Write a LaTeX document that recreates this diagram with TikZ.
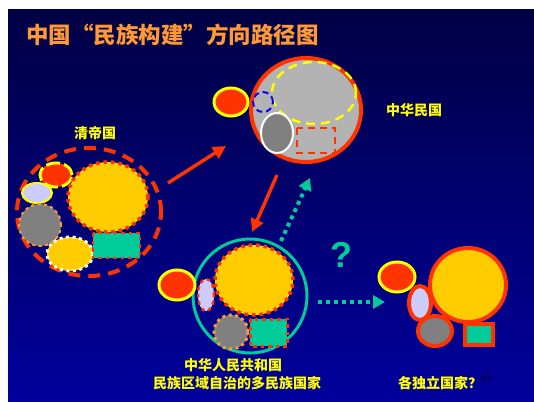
\documentclass[tikz,border=0pt]{standalone}
\usepackage{fontspec}
\newfontfamily\cjk{Noto Sans CJK SC}
\newfontfamily\lsans{Liberation Sans}
\usetikzlibrary{arrows.meta}
\definecolor{bgtop}{HTML}{000044}
\definecolor{bgbot}{HTML}{00009C}
\definecolor{rred}{HTML}{FF3300}
\definecolor{gold}{HTML}{FFCC00}
\definecolor{yel}{HTML}{FFFF00}
\definecolor{lav}{HTML}{CCCCFF}
\definecolor{gry}{HTML}{808080}
\definecolor{lgry}{HTML}{B3B3B3}
\definecolor{teal}{HTML}{00CC99}
\definecolor{orng}{HTML}{FF9933}
\definecolor{titleor}{HTML}{FF9933}
\tikzset{
  redarrow/.style={draw=rred, line width=3.5pt, -{Triangle[length=13pt,width=13pt]}},
  tealarrow/.style={draw=teal, line width=4pt, dash pattern=on 4pt off 4pt, -{Triangle[length=12pt,width=13pt]}},
  reddots/.style={draw=rred, line width=3.5pt, dash pattern=on 3.5pt off 4pt},
  orngdots/.style={draw=orng, line width=3pt, dash pattern=on 3pt off 3.5pt},
  whitedots/.style={draw=white, line width=3pt, dash pattern=on 3pt off 3.5pt},
  yelring/.style={fill=rred, draw=yel, line width=3pt},
  label/.style={text=yel, font=\cjk\bfseries\fontsize{14}{16}\selectfont, inner sep=0pt},
}
\begin{document}
\begin{tikzpicture}[x=1pt,y=-1pt]
\useasboundingbox (0,0) rectangle (534,401);
\fill[white] (0,0) rectangle (534,401);
\shade[top color=bgtop, bottom color=bgbot] (8,10) rectangle (534,401);

% title
\node[text=titleor, font=\cjk\bfseries\fontsize{22.5}{25}\selectfont, anchor=west, inner sep=0pt] (title) at (26,35) {中国“民族构建”方向路径图};

% ---- Qing empire ----
\node[label] (qing) at (95,133) {清帝国};
\draw[draw=rred, line width=4pt, dash pattern=on 12pt off 8pt] (89,212) ellipse [x radius=72pt, y radius=64pt];
\draw[fill=rred, draw=yel, line width=3pt, dash pattern=on 14pt off 4pt] (56,175) ellipse [x radius=16pt, y radius=12pt];
\draw[fill=lav, draw=yel, line width=2pt] (37,193) ellipse [x radius=15pt, y radius=10pt];
\fill[gry] (40,225) circle [radius=21pt];
\draw[orngdots, line width=2pt] (40,225) circle [radius=21pt];
\fill[gold] (108,197) ellipse [x radius=40pt, y radius=35pt];
\draw[reddots] (108,197) ellipse [x radius=40pt, y radius=35pt];
\fill[gold] (70,254) ellipse [x radius=23pt, y radius=17pt];
\draw[whitedots] (70,254) ellipse [x radius=23pt, y radius=17pt];
\fill[teal] (93,233) rectangle (140,258);
\draw[reddots, line width=2.5pt] (93,233) rectangle (140,258);

% ---- Republic of China ----
\node[label] (roc) at (414,110) {中华民国};
\draw[fill=lgry, draw=rred, line width=4pt] (306,110) ellipse [x radius=55pt, y radius=52pt];
\draw[yelring] (231,102) ellipse [x radius=17pt, y radius=14pt];
\draw[draw=yel, line width=2.5pt, dash pattern=on 9pt off 6pt] (314,93) ellipse [x radius=42pt, y radius=31pt];
\draw[draw=blue, line width=2pt, dash pattern=on 6pt off 4pt] (263,102) circle [radius=10pt];
\draw[fill=gry, draw=white, line width=2pt] (277,133) ellipse [x radius=16pt, y radius=20pt];
\draw[draw=rred, line width=2pt, dash pattern=on 7pt off 5pt] (297,128) rectangle (335,153);

% ---- PRC ----
\draw[draw=teal, line width=3pt] (250,296) circle [radius=57pt];
\draw[yelring] (177,285) ellipse [x radius=18pt, y radius=15pt];
\fill[gold] (254,280) ellipse [x radius=39pt, y radius=35pt];
\draw[reddots] (254,280) ellipse [x radius=39pt, y radius=35pt];
\fill[lav] (206,295) ellipse [x radius=8pt, y radius=16pt];
\draw[reddots, line width=2.5pt] (206,295) ellipse [x radius=8pt, y radius=16pt];
\fill[gry] (231,332) circle [radius=17pt];
\draw[orngdots] (231,332) circle [radius=17pt];
\fill[teal] (250,319) rectangle (287,346);
\draw[reddots, line width=3pt] (250,319) rectangle (287,346);
\node[label] (prc1) at (233,365) {中华人民共和国};
\node[label] (prc2) at (237,383) {民族区域自治的多民族国家};

% ---- Independent states ----
\draw[yelring] (397,277) ellipse [x radius=18pt, y radius=15pt];
\draw[fill=gold, draw=rred, line width=4pt] (468,285) ellipse [x radius=38pt, y radius=37pt];
\draw[fill=lav, draw=rred, line width=4pt] (420,303) ellipse [x radius=11pt, y radius=17pt];
\draw[fill=gry, draw=rred, line width=4pt] (435,331) ellipse [x radius=17pt, y radius=15pt];
\draw[fill=teal, draw=rred, line width=4pt] (465,324) rectangle (493,345);
\node[label] (indep) at (440,383) {各独立国家？};
\node[text=black, font=\fontsize{11}{12}\selectfont, inner sep=0pt] (pg) at (486,378) {51};

% question mark
\node[text=teal, font=\lsans\bfseries\fontsize{36}{40}\selectfont, inner sep=0pt] (q) at (341,255) {?};

% ---- arrows ----
\coordinate (a1s) at (168,183);
\coordinate (a1e) at (226,146);
\coordinate (a2s) at (277,175);
\coordinate (a2e) at (252,232);
\coordinate (a3s) at (281,241);
\coordinate (a3e) at (310,178);
\coordinate (a4s) at (318,302);
\coordinate (a4e) at (385,302);
\draw[redarrow] (a1s) -- (a1e);
\draw[redarrow] (a2s) -- (a2e);
\draw[tealarrow] (a3s) -- (a3e);
\draw[tealarrow] (a4s) -- (a4e);
\end{tikzpicture}
\end{document}
